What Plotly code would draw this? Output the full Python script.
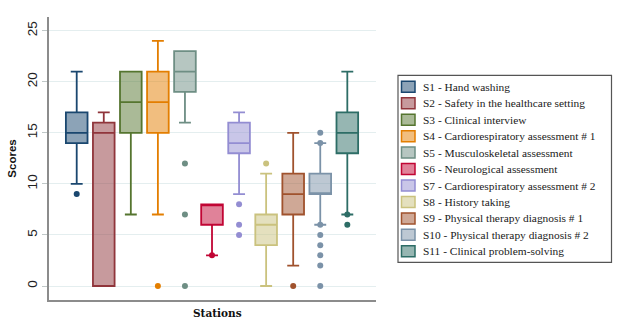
import plotly.graph_objects as go

# ---------------- data ----------------
stations = [
    "S1 - Hand washing",
    "S2 - Safety in the healthcare setting",
    "S3 - Clinical interview",
    "S4 - Cardiorespiratory assessment # 1",
    "S5 - Musculoskeletal assessment",
    "S6 - Neurological assessment",
    "S7 - Cardiorespiratory assessment # 2",
    "S8 - History taking",
    "S9 - Physical therapy diagnosis # 1",
    "S10 - Physical therapy diagnosis # 2",
    "S11 - Clinical problem-solving",
]
q1 = [14, 0, 15, 15, 19, 6, 13, 4, 7, 9, 13]
median = [15, 15, 18, 18, 21, 8, 14, 6, 9, 9, 15]
q3 = [17, 16, 21, 21, 23, 8, 16, 7, 11, 11, 17]
lower_fence = [10, 0, 7, 7, 16, 3, 9, 0, 2, 6, 7]
upper_fence = [21, 17, 21, 24, 23, 8, 17, 11, 15, 14, 21]
outliers = [
    [9], [], [], [0], [12, 7, 0], [3], [8, 6, 5], [12], [0],
    [15, 14, 6, 5, 4, 3, 2, 0], [7, 6],
]
y_ticks = [0, 5, 10, 15, 20, 25]

colors = ["#1a476f", "#90353b", "#55752f", "#e37e00", "#6e8e84", "#c10534",
          "#938dd2", "#cac27e", "#a0522d", "#7b92a8", "#2d6d66"]


def rgba(h, a):
    h = h.lstrip("#")
    r, g, b = int(h[0:2], 16), int(h[2:4], 16), int(h[4:6], 16)
    return f"rgba({r},{g},{b},{a})"


# ---------------- layout constants (pixels) ----------------
W, H = 618, 324
ML, MR, MT, MB = 49, 242, 17, 24
PW, PH = W - ML - MR, H - MT - MB


def px_x(p):
    return (p - ML) / PW


def px_y(p):
    return (H - MB - p) / PH


fig = go.Figure()
for i, name in enumerate(stations):
    fig.add_trace(go.Box(
        x=[i], q1=[q1[i]], median=[median[i]], q3=[q3[i]],
        lowerfence=[lower_fence[i]], upperfence=[upper_fence[i]],
        name=name, width=0.8, whiskerwidth=0.55,
        fillcolor=rgba(colors[i], 0.5),
        line=dict(color=colors[i], width=1.8),
        boxpoints=False, showlegend=False,
    ))
    if outliers[i]:
        fig.add_trace(go.Scatter(
            x=[i] * len(outliers[i]), y=outliers[i], mode="markers",
            marker=dict(color=colors[i], size=6),
            showlegend=False, name=name,
        ))

# custom legend
shapes = []
annotations = []
lx0, lx1, ly0, ly1 = 398, 611.5, 75.3, 262.3
shapes.append(dict(type="rect", xref="paper", yref="paper",
                   x0=px_x(lx0), x1=px_x(lx1), y0=px_y(ly1), y1=px_y(ly0),
                   line=dict(color="#555555", width=1.2), fillcolor="white", layer="below"))
row0, pitch = 86.8, 16.45
for i, name in enumerate(stations):
    cy = row0 + pitch * i
    shapes.append(dict(type="rect", xref="paper", yref="paper",
                       x0=px_x(401.5), x1=px_x(415), y0=px_y(cy + 5.5), y1=px_y(cy - 5.5),
                       line=dict(color=colors[i], width=1.5),
                       fillcolor=rgba(colors[i], 0.5)))
    annotations.append(dict(xref="paper", yref="paper", x=px_x(421), y=px_y(cy),
                            text=name, showarrow=False, xanchor="left", yanchor="middle",
                            font=dict(family="Liberation Serif", size=11.4, color="#1a1a1a")))

annotations.append(dict(xref="paper", yref="paper", x=px_x(217), y=px_y(313),
                        text="Stations", showarrow=False, xanchor="center", yanchor="middle",
                        font=dict(family="DejaVu Serif", size=10.5, color="#111111", weight="bold")))

fig.update_layout(
    width=W, height=H,
    margin=dict(l=ML, r=MR, t=MT, b=MB, pad=0),
    paper_bgcolor="white", plot_bgcolor="white",
    showlegend=False,
    shapes=shapes, annotations=annotations,
    xaxis=dict(range=[-1.024, 11.06], showticklabels=False, ticks="",
               showgrid=False, zeroline=False,
               showline=True, linecolor="#8c8c8c", linewidth=1.5),
    yaxis=dict(range=[-1.37, 26.34], tickvals=y_ticks,
               ticktext=[str(v) for v in y_ticks], tickangle=-90,
               tickfont=dict(family="Liberation Sans", size=13.5, color="#222222"),
               ticks="outside", ticklen=5, tickcolor="#c0c8c8", tickwidth=1,
               showgrid=True, gridcolor="#e4eeef", gridwidth=1,
               zeroline=False, showline=True, linecolor="#8c8c8c", linewidth=1.5,
               title=dict(text="Scores", standoff=6,
                          font=dict(family="Liberation Sans", size=11.5, color="#111111",
                                    weight="bold"))),
)

fig.write_html("out.html", config={"displayModeBar": False},
               post_script="document.body.style.margin='0';")
